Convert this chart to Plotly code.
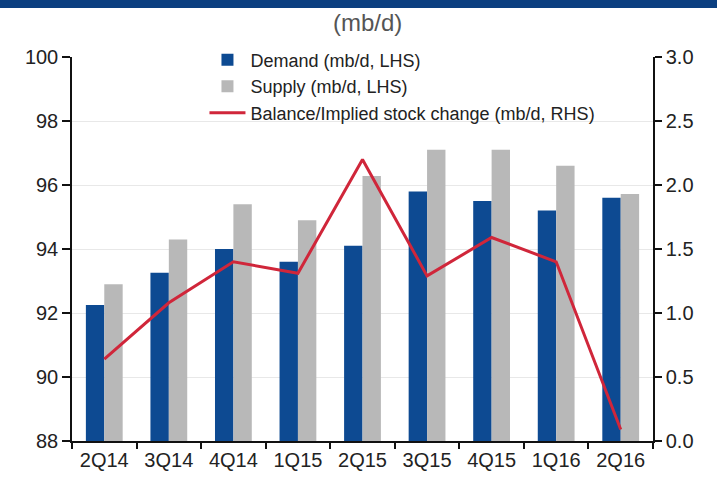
import plotly.graph_objects as go

quarters = ["2Q14", "3Q14", "4Q14", "1Q15", "2Q15", "3Q15", "4Q15", "1Q16", "2Q16"]
demand = [92.25, 93.26, 94.0, 93.6, 94.1, 95.8, 95.5, 95.2, 95.6]
supply = [92.9, 94.3, 95.4, 94.9, 96.28, 97.1, 97.1, 96.6, 95.72]
balance = [0.64, 1.08, 1.40, 1.31, 2.20, 1.29, 1.59, 1.40, 0.09]
left_ticks = [88, 90, 92, 94, 96, 98, 100]
right_ticks = [0.0, 0.5, 1.0, 1.5, 2.0, 2.5, 3.0]

FONT = "Liberation Sans, Arial, sans-serif"

fig = go.Figure()
fig.add_trace(go.Bar(x=quarters, y=demand, name="Demand (mb/d, LHS)",
                     marker=dict(color="#0d4a92", line=dict(width=0))))
fig.add_trace(go.Bar(x=quarters, y=supply, name="Supply (mb/d, LHS)",
                     marker=dict(color="#b8b8b8", line=dict(width=0))))
fig.add_trace(go.Scatter(x=quarters, y=balance, name="Balance/Implied stock change (mb/d, RHS)",
                         mode="lines", line=dict(color="#d0263a", width=3), yaxis="y2"))

fig.update_layout(
    width=717, height=483,
    margin=dict(l=72, r=64, t=57, b=42),
    paper_bgcolor="white", plot_bgcolor="white",
    barmode="group", bargap=0.43, bargroupgap=0,
    font=dict(family=FONT, size=20, color="#222222"),
    showlegend=True,
    legend=dict(x=0.228, y=1.04, xanchor="left", yanchor="top",
                bgcolor="rgba(0,0,0,0)", font=dict(size=18, color="#222222"),
                tracegroupgap=0, itemwidth=36),
    xaxis=dict(type="category", tickson="boundaries", ticks="outside", ticklen=6,
               tickwidth=1.5, tickcolor="#111", showline=True, linecolor="#111", linewidth=1.5,
               showgrid=False, tickfont=dict(size=20, color="#222")),
    yaxis=dict(range=[88, 100], tickvals=left_ticks, ticktext=[str(v) for v in left_ticks],
               ticks="outside", ticklen=8, tickwidth=1.5, tickcolor="#111",
               showline=True, linecolor="#111", linewidth=1.5,
               showgrid=True, gridcolor="#e8e8e8", gridwidth=1, zeroline=False,
               tickfont=dict(size=20, color="#222")),
    yaxis2=dict(range=[0, 3.0], tickvals=right_ticks, ticktext=[f"{v:.1f}" for v in right_ticks],
                overlaying="y", side="right", ticks="outside", ticklen=7, tickwidth=1.5,
                tickcolor="#111", showline=True, linecolor="#111", linewidth=1.5,
                showgrid=False, zeroline=False, tickfont=dict(size=20, color="#222")),
)

# dark blue band at the very top (remnant of the header)
fig.add_shape(type="rect", xref="paper", yref="paper",
              x0=-72/581, x1=1 + 64/581, y0=1 + 49/384, y1=1 + 60/384,
              fillcolor="#0b3f80", line=dict(width=0), layer="above")

fig.add_annotation(text="(mb/d)", xref="paper", yref="paper",
                   x=(367 - 72) / 581, y=1 + (57 - 23) / 384,
                   xanchor="center", yanchor="middle", showarrow=False,
                   font=dict(family=FONT, size=24, color="#555555"))

fig.write_html("out.html", config={"displayModeBar": False},
               post_script="document.body.style.margin='0';")
